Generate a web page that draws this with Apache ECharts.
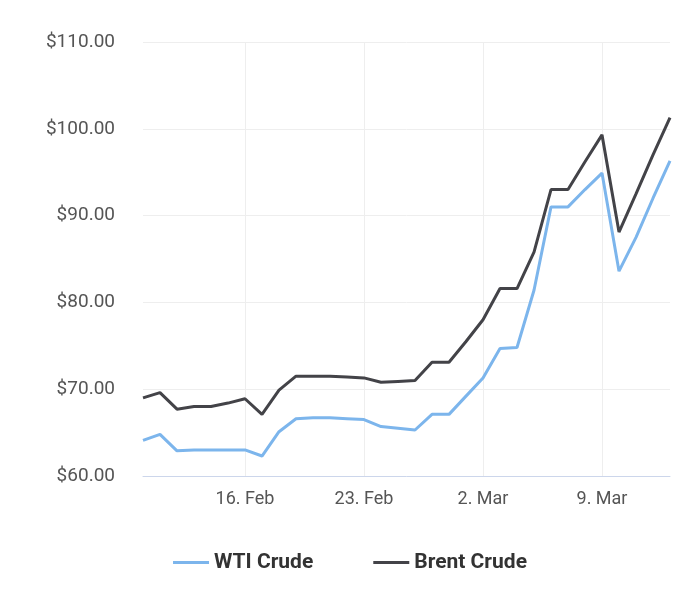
<!DOCTYPE html>
<html><head><meta charset="utf-8">
<script src="https://cdn.jsdelivr.net/npm/echarts@6/dist/echarts.min.js"></script>
<style>html,body{margin:0;padding:0;background:#fff}#c{width:700px;height:597px}</style>
</head><body><div id="c"></div>
<script>
const categories = ['10 Feb','11 Feb','12 Feb','13 Feb','14 Feb','15 Feb','16 Feb','17 Feb','18 Feb','19 Feb','20 Feb','21 Feb','22 Feb','23 Feb','24 Feb','25 Feb','26 Feb','27 Feb','28 Feb','1 Mar','2 Mar','3 Mar','4 Mar','5 Mar','6 Mar','7 Mar','8 Mar','9 Mar','10 Mar','11 Mar','12 Mar','13 Mar'];
const tickLabels = {'16 Feb':'16. Feb','23 Feb':'23. Feb','2 Mar':'2. Mar','9 Mar':'9. Mar'};
const wti = [64.1,64.8,62.9,63.0,63.0,63.0,63.0,62.3,65.1,66.6,66.7,66.7,66.6,66.5,65.7,65.5,65.3,67.1,67.1,69.2,71.3,74.7,74.8,81.4,91.0,91.0,93.0,94.9,83.6,87.5,92.0,96.3];
const brent = [69.0,69.6,67.7,68.0,68.0,68.4,68.9,67.1,69.9,71.5,71.5,71.5,71.4,71.3,70.8,70.9,71.0,73.1,73.1,75.5,78.0,81.6,81.6,85.8,93.0,93.0,96.2,99.3,88.1,92.5,97.0,101.3];
const chart = echarts.init(document.getElementById('c'));
chart.setOption({
  animation:false,
  grid:{left:143,right:30,top:42,bottom:121},
  legend:{bottom:19,itemGap:60,itemWidth:36,itemHeight:3,icon:'rect',
    textStyle:{fontFamily:'Roboto',fontSize:21,fontWeight:'bold',color:'#333'},
    data:['WTI Crude','Brent Crude']},
  xAxis:{type:'category',data:categories,boundaryGap:false,
    axisLine:{lineStyle:{color:'#ccd6eb'}},axisTick:{show:false},
    axisLabel:{interval:0,fontFamily:'Roboto',fontSize:18,color:'#555',margin:14,
      formatter:v=>tickLabels[v]||''},
    splitLine:{show:true,interval:(i,v)=>!!tickLabels[v],lineStyle:{color:'#eeeeee'}}},
  yAxis:{type:'value',min:60,max:110,interval:10,
    axisLabel:{fontFamily:'Roboto',fontSize:19,color:'#555',margin:28,formatter:v=>'$'+v.toFixed(2)},
    splitLine:{lineStyle:{color:'#eeeeee'}},axisLine:{show:false},axisTick:{show:false}},
  series:[
    {name:'WTI Crude',type:'line',data:wti,symbol:'none',lineStyle:{width:3,color:'#7cb5ec'},itemStyle:{color:'#7cb5ec'}},
    {name:'Brent Crude',type:'line',data:brent,symbol:'none',lineStyle:{width:3,color:'#434348'},itemStyle:{color:'#434348'}}
  ]
});
</script></body></html>
